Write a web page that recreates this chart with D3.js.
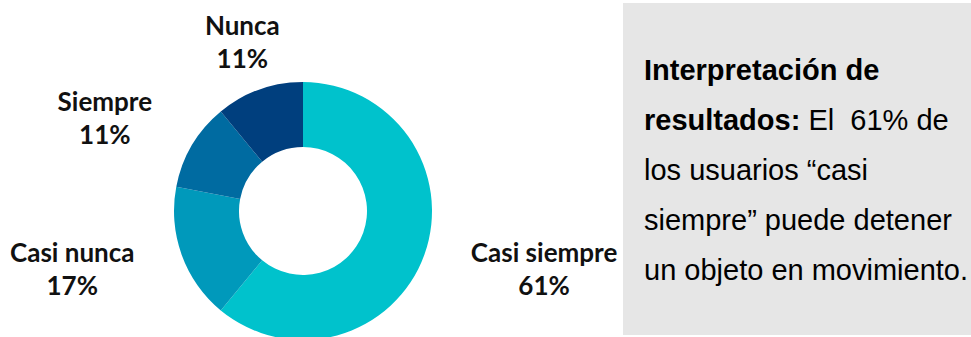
<!DOCTYPE html>
<html>
<head>
<meta charset="utf-8">
<script src="https://cdn.jsdelivr.net/npm/d3@7/dist/d3.min.js"></script>
<style>
  html, body { margin: 0; padding: 0; background: #fff; }
  svg { display: block; }
</style>
</head>
<body>
<svg id="chart" width="971" height="337"></svg>
<script>
// Survey answers, clockwise from 12 o'clock
const categories = ["Casi siempre", "Casi nunca", "Siempre", "Nunca"];
const percents = [61, 17, 11, 11];
const palette = ["#00C2CC", "#0099BB", "#006BA1", "#003F7E"];

// Interpretation note: each line is a list of [text, bold] runs
const noteLines = [
  [["Interpretación de", true]],
  [["resultados:", true], [" El  61% de", false]],
  [["los usuarios “casi", false]],
  [["siempre” puede detener", false]],
  [["un objeto en movimiento.", false]]
];

const svg = d3.select("#chart");
const W = 971, H = 337;

// ---- donut ----
const cx = 303, cy = 211, rOuter = 129, rInner = 64;
const data = categories.map((c, i) => ({ cat: c, value: percents[i], color: palette[i] }));

const pie = d3.pie().sort(null).value(d => d.value).startAngle(0).endAngle(2 * Math.PI);
const arc = d3.arc().innerRadius(rInner).outerRadius(rOuter);
const arcs = pie(data);

const g = svg.append("g").attr("transform", `translate(${cx},${cy})`);
g.selectAll("path.slice")
  .data(arcs)
  .join("path")
  .attr("class", "slice")
  .attr("d", arc)
  .attr("fill", d => d.data.color);

// ---- slice labels (outside, two lines) ----
const labelFont = "Lato, 'Open Sans', sans-serif";
const labelSize = 26;
const lineGap = 33;
const labelReach = 183;          // distance from the centre to the label's inner side
const labelNudge = { "Nunca": [14, 0] };

const labels = g.selectAll("g.lbl")
  .data(arcs)
  .join("g")
  .attr("class", "lbl");

labels.append("text")
  .attr("class", "name")
  .attr("text-anchor", "middle")
  .attr("font-family", labelFont)
  .attr("font-weight", 700)
  .attr("font-size", labelSize)
  .attr("fill", "#111")
  .text(d => d.data.cat);

labels.append("text")
  .attr("class", "pct")
  .attr("text-anchor", "middle")
  .attr("font-family", labelFont)
  .attr("font-weight", 700)
  .attr("font-size", labelSize)
  .attr("fill", "#111")
  .attr("y", lineGap)
  .text(d => d3.format(".0%")(d.data.value / 100));

labels.each(function (d) {
  const sel = d3.select(this);
  const w = sel.select("text.name").node().getComputedTextLength();
  const mid = (d.startAngle + d.endAngle) / 2;
  const s = Math.sin(mid), c = Math.cos(mid);
  const nudge = labelNudge[d.data.cat] || [0, 0];
  const x = s * (labelReach + w / 2) + nudge[0];
  // vertical centre of the two-line block; first baseline sits half a line above it
  const yc = -c * 178 + 6.5 + nudge[1];
  const y = yc - lineGap / 2 + 1;
  sel.attr("transform", `translate(${x},${y})`);
});

// ---- interpretation panel ----
const panel = { x: 623, y: 3, w: W - 623, h: 332 };
svg.append("rect")
  .attr("x", panel.x).attr("y", panel.y)
  .attr("width", panel.w).attr("height", panel.h)
  .attr("fill", "#E6E6E6");

const note = svg.append("text")
  .attr("font-family", "'Liberation Sans', Arial, Helvetica, sans-serif")
  .attr("font-size", 29)
  .attr("fill", "#000")
  .style("white-space", "pre");

noteLines.forEach((runs, i) => {
  runs.forEach(([txt, bold], j) => {
    const t = note.append("tspan").text(txt).attr("font-weight", bold ? 700 : 400);
    if (j === 0) t.attr("x", 644).attr("y", 80 + i * 50);
  });
});
</script>
</body>
</html>
